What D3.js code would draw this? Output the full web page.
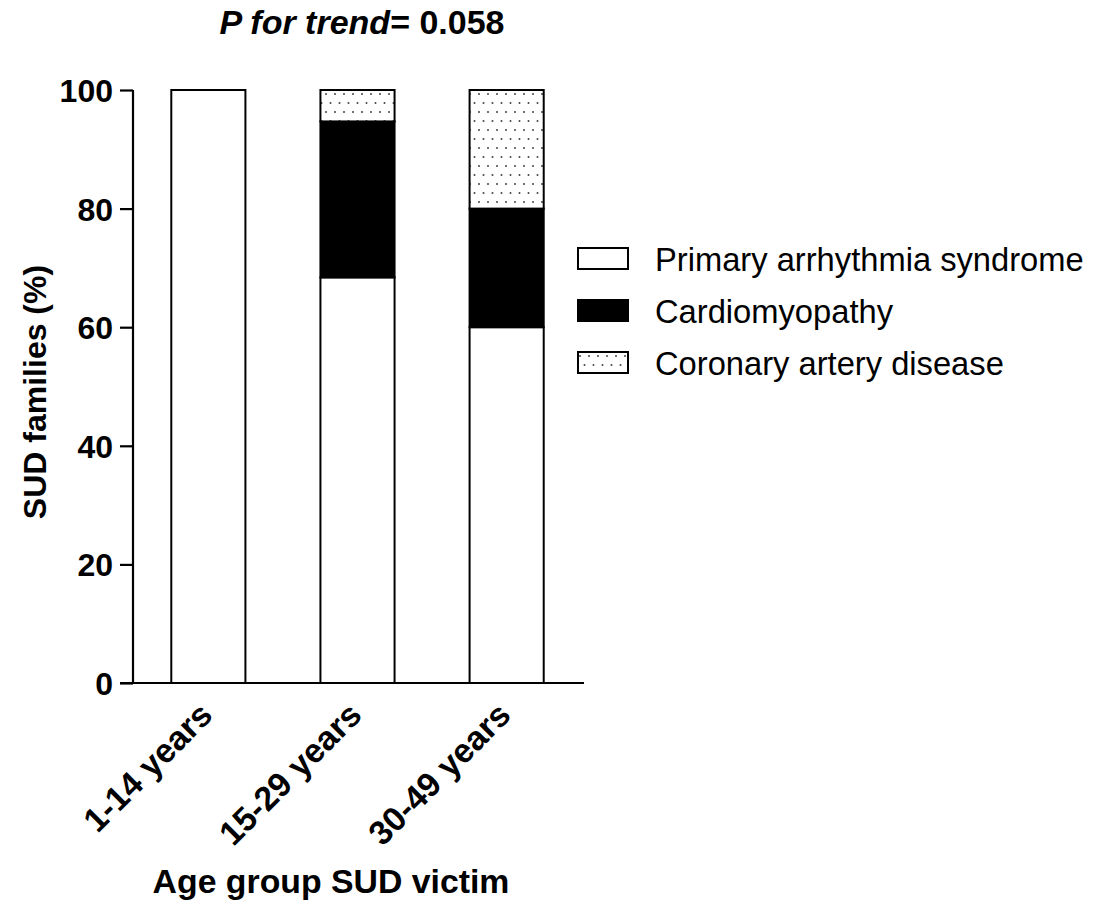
<!DOCTYPE html>
<html>
<head>
<meta charset="utf-8">
<script src="https://cdn.jsdelivr.net/npm/d3@7"></script>
<style>
  html, body { margin: 0; padding: 0; background: #fff; }
  svg { display: block; font-family: "Liberation Sans", Arial, sans-serif; }
</style>
</head>
<body>
<svg id="chart" width="1100" height="903"></svg>
<script>
// Age groups of the SUD victim
const categories = ["1-14 years", "15-29 years", "30-49 years"];
// Share of families per diagnosis (%)
const primaryArrhythmia = [100, 68.4, 60];
const cardiomyopathy = [0, 26.3, 20];
const coronaryArtery = [0, 5.3, 20];
const seriesNames = ["Primary arrhythmia syndrome", "Cardiomyopathy", "Coronary artery disease"];
const yTicks = [0, 20, 40, 60, 80, 100];

const svg = d3.select("#chart");

// Dotted fill for coronary artery disease
const defs = svg.append("defs");
const pat = defs.append("pattern")
  .attr("id", "dots")
  .attr("patternUnits", "userSpaceOnUse")
  .attr("width", 9).attr("height", 18);
pat.append("rect").attr("width", 9).attr("height", 18).attr("fill", "#fff");
pat.append("circle").attr("cx", 2).attr("cy", 4).attr("r", 1).attr("fill", "#444");
pat.append("circle").attr("cx", 6.5).attr("cy", 13).attr("r", 1).attr("fill", "#444");

const fills = ["#fff", "#000", "url(#dots)"];

const x = d3.scaleBand()
  .domain(categories)
  .range([134, 581])
  .paddingInner(0.503)
  .paddingOuter(0.25);

const y = d3.scaleLinear().domain([0, 100]).range([683, 90]);

// Stack the three diagnoses
const rows = categories.map((c, i) => ({
  cat: c,
  [seriesNames[0]]: primaryArrhythmia[i],
  [seriesNames[1]]: cardiomyopathy[i],
  [seriesNames[2]]: coronaryArtery[i]
}));
const stacked = d3.stack().keys(seriesNames)(rows);

const g = svg.append("g");
stacked.forEach((layer, li) => {
  g.selectAll(null)
    .data(layer.filter(d => d[1] - d[0] > 0))
    .join("rect")
    .attr("x", d => x(d.data.cat))
    .attr("width", x.bandwidth())
    .attr("y", d => y(d[1]))
    .attr("height", d => y(d[0]) - y(d[1]))
    .attr("fill", fills[li])
    .attr("stroke", "#000")
    .attr("stroke-width", 2);
});

// Y axis
const yAxis = d3.axisLeft(y).tickValues(yTicks).tickSize(13).tickPadding(7);
const yg = svg.append("g").attr("transform", "translate(133,0)").call(yAxis);
yg.select(".domain").attr("stroke", "#000").attr("stroke-width", 2.2)
  .attr("d", "M0,90V683");
yg.selectAll(".tick line").attr("stroke", "#000").attr("stroke-width", 2.2);
yg.selectAll(".tick text")
  .attr("font-size", 32).attr("font-weight", "bold").attr("fill", "#000")
  .attr("font-family", "'Liberation Sans', Arial, sans-serif")
  .attr("dy", "0.36em");

// X axis baseline
const xAxis = d3.axisBottom(x).tickSize(0).tickPadding(0);
const xg = svg.append("g").attr("transform", "translate(0,683)").call(xAxis);
xg.select(".domain").attr("stroke", "#000").attr("stroke-width", 2.2)
  .attr("d", "M120,0H584");
xg.selectAll(".tick text")
  .attr("font-size", 33.8).attr("font-weight", "bold").attr("fill", "#000")
  .attr("font-family", "'Liberation Sans', Arial, sans-serif")
  .attr("text-anchor", "end")
  .attr("dy", 0)
  .attr("transform", "translate(6,34) rotate(-45)");

// Title
const title = svg.append("text")
  .attr("x", 362).attr("y", 34)
  .attr("text-anchor", "middle")
  .attr("font-size", 34).attr("font-weight", "bold");
title.append("tspan").attr("font-style", "italic").text("P for trend");
title.append("tspan").text("= 0.058");

// Axis titles
svg.append("text")
  .attr("transform", "translate(46,392) rotate(-90)")
  .attr("text-anchor", "middle")
  .attr("font-size", 32).attr("font-weight", "bold")
  .text("SUD families (%)");

svg.append("text")
  .attr("x", 331).attr("y", 893)
  .attr("text-anchor", "middle")
  .attr("font-size", 33.8).attr("font-weight", "bold")
  .text("Age group SUD victim");

// Legend
const legend = svg.append("g").attr("transform", "translate(578,248)");
seriesNames.forEach((name, i) => {
  const row = legend.append("g").attr("transform", `translate(0,${i * 52})`);
  row.append("rect")
    .attr("width", 50).attr("height", 21)
    .attr("fill", fills[i]).attr("stroke", "#000").attr("stroke-width", 2);
  row.append("text")
    .attr("x", 77).attr("y", 23)
    .attr("font-size", 32.7)
    .text(name);
});
</script>
</body>
</html>
